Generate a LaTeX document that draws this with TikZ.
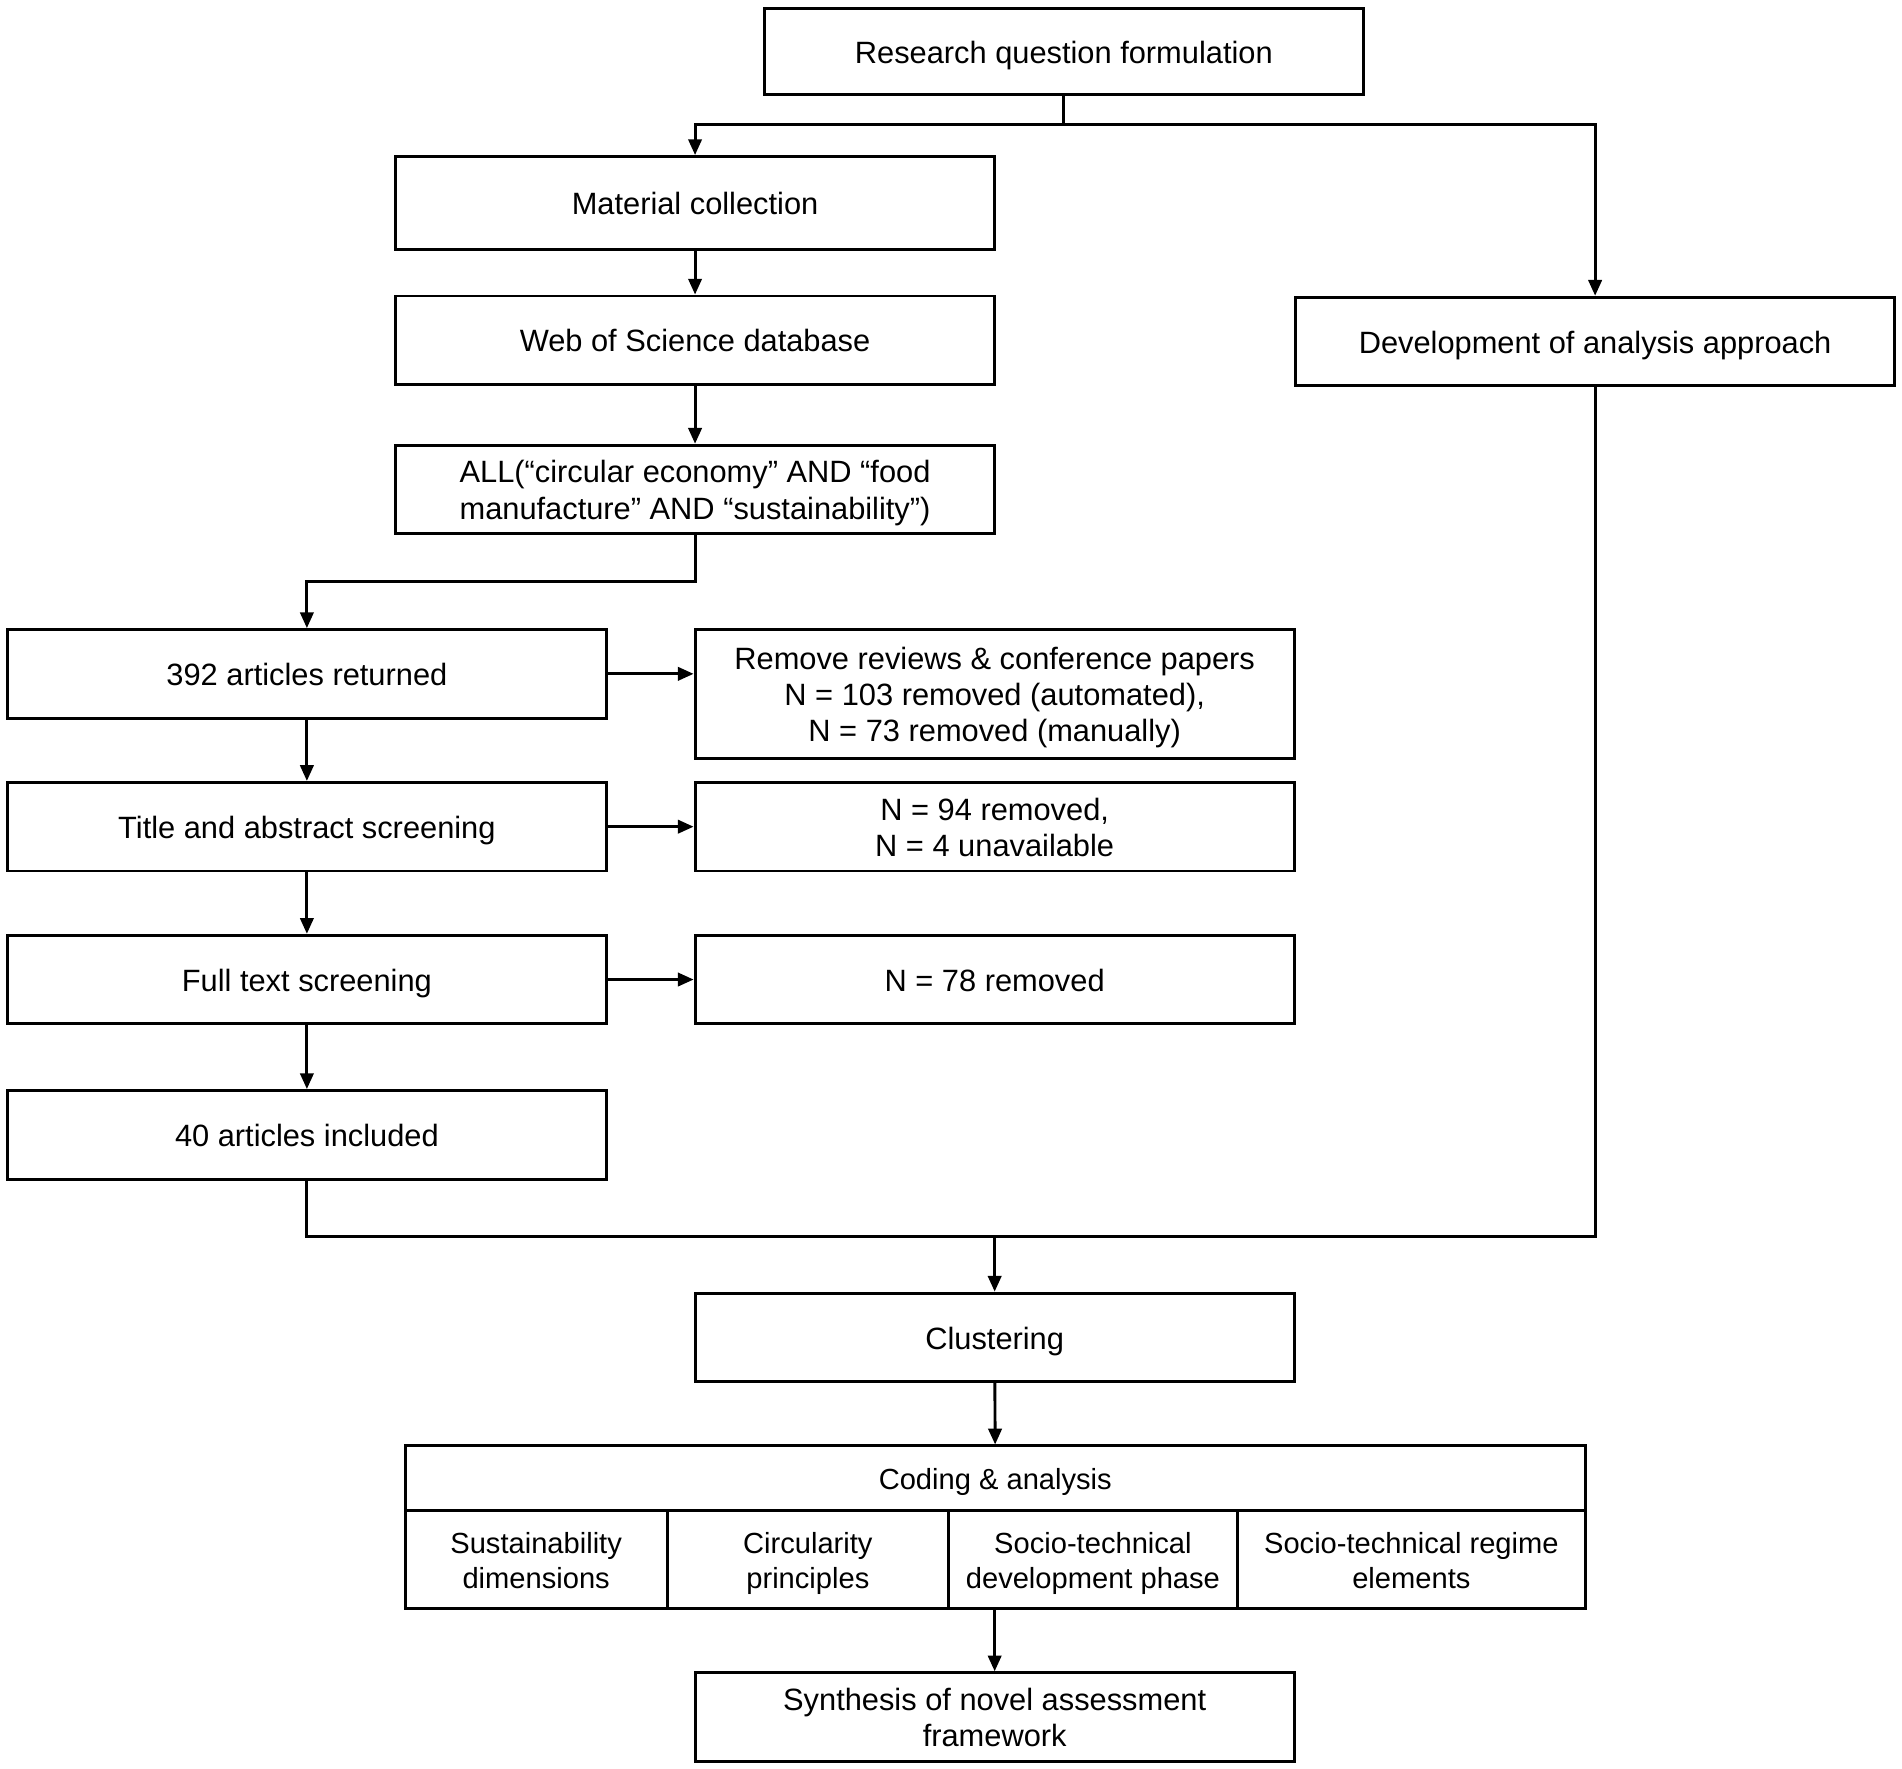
\documentclass[tikz,border=0pt]{standalone}
\usepackage{fontspec}
\setmainfont{Liberation Sans}
\usetikzlibrary{arrows.meta}
\newcommand{\upstrut}{\rule{0pt}{12.4pt}}
\newcommand{\downstrut}{\rule[-2.8pt]{0pt}{0pt}}

\begin{document}
\begin{tikzpicture}[x=0.5pt, y=-0.5pt,
    box/.style={draw, line width=1.2pt, minimum width=247pt, minimum height=36.5pt,
        align=center, inner sep=2pt, font=\fontsize{12.7}{15}\selectfont},
    cell/.style={box, minimum height=40.5pt, inner sep=1pt,
        font=\fontsize{12}{14.5}\selectfont},
    link/.style={line width=1.2pt},
    arr/.style={link, -{Triangle[length=6.5pt,width=5.5pt]}}]
    \useasboundingbox (0,0) rectangle (1568,1458);

    % main column
    \node [box, minimum height=35.5pt] (rq) at (877,42.5) {\upstrut Research question formulation\downstrut};
    \node [box, minimum height=38.5pt] (mat) at (573,167.5) {\upstrut Material collection\downstrut};
    \node [box] (wos) at (573,280.5) {\upstrut Web of Science database\downstrut};
    \node [box] (dev) at (1315,281.5) {\upstrut Development of analysis approach\downstrut};
    \node [box] (all) at (573,403.5) {\upstrut ALL(“circular economy” AND “food\\manufacture” AND “sustainability”)\downstrut};

    % screening
    \node [box] (ret) at (253,555.5) {\upstrut 392 articles returned\downstrut};
    \node [box, minimum height=53pt] (rem) at (820,572) {\upstrut Remove reviews \& conference papers\\N = 103 removed (automated),\\N = 73 removed (manually)\downstrut};
    \node [box] (tas) at (253,681.5) {\upstrut Title and abstract screening\downstrut};
    \node [box] (n94) at (820,681.5) {\upstrut N = 94 removed,\\N = 4 unavailable\downstrut};
    \node [box] (fts) at (253,807.5) {\upstrut Full text screening\downstrut};
    \node [box] (n78) at (820,807.5) {\upstrut N = 78 removed\downstrut};
    \node [box] (inc) at (253,935.5) {\upstrut 40 articles included\downstrut};

    % analysis
    \node [box] (clu) at (820,1102.5) {\upstrut Clustering\downstrut};
    \node [cell, minimum width=486.5pt, minimum height=26.5pt] (code) at (820.5,1218.5) {\upstrut Coding \& analysis\downstrut};
    \node [cell, minimum width=108pt] (c1) at (442,1285.5) {\upstrut Sustainability\\dimensions\downstrut};
    \node [cell, minimum width=116pt] (c2) at (666,1285.5) {\upstrut Circularity\\principles\downstrut};
    \node [cell, minimum width=119pt] (c3) at (901,1285.5) {\upstrut Socio-technical\\development phase\downstrut};
    \node [cell, minimum width=143.5pt] (c4) at (1163.5,1285.5) {\upstrut Socio-technical regime\\elements\downstrut};
    \node [box] (syn) at (820,1415.5) {\upstrut Synthesis of novel assessment\\framework\downstrut};

    % connectors
    \coordinate (split) at (877,103);
    \coordinate (bend) at (573,479);
    \coordinate (merge) at (820,1019);
    \draw [link] (rq) -- (split);
    \draw [arr] (split) -| (mat);
    \draw [arr] (split) -| (dev);
    \draw [arr] (mat) -- (wos);
    \draw [arr] (wos) -- (all);
    \draw [arr] (all) -- (bend) -| (ret);
    \draw [arr] (ret) -- (tas);
    \draw [arr] (tas) -- (fts);
    \draw [arr] (fts) -- (inc);
    \draw [arr] (ret.east) -- (ret.east -| rem.west);
    \draw [arr] (tas) -- (n94);
    \draw [arr] (fts) -- (n78);
    \draw [link] (inc) |- (merge);
    \draw [link] (dev) |- (merge);
    \draw [arr] (merge) -- (clu);
    \draw [arr] (clu) -- (code);
    \draw [arr] (c3.south -| syn.north) -- (syn);
\end{tikzpicture}
\end{document}
